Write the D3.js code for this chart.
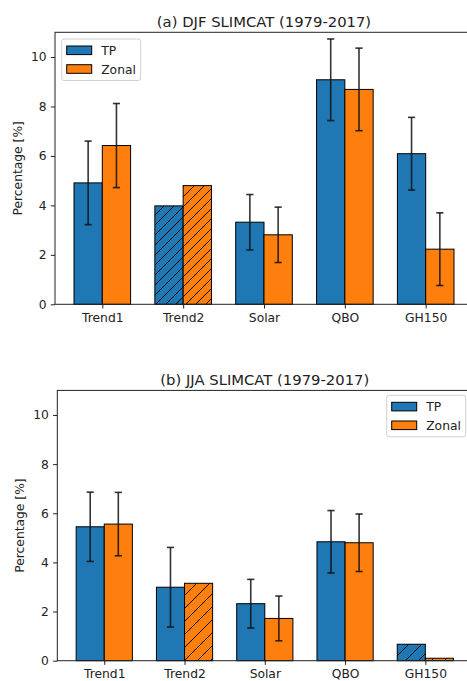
<!DOCTYPE html>
<html>
<head>
<meta charset="utf-8">
<script src="https://cdn.jsdelivr.net/npm/d3@7"></script>
<style>
  body { margin: 0; background: #fff; }
  svg { display: block; font-family: "DejaVu Sans", sans-serif; }
</style>
</head>
<body>
<svg id="chart" width="467" height="681"></svg>
<script>
// categories + values
const categories = ["Trend1", "Trend2", "Solar", "QBO", "GH150"];
const seriesNames = ["TP", "Zonal"];

const djfTP = [4.91, 3.98, 3.32, 9.08, 6.09];
const djfTPErr = [1.69, null, 1.12, 1.65, 1.47];
const djfZonal = [6.42, 4.80, 2.81, 8.69, 2.23];
const djfZonalErr = [1.70, null, 1.12, 1.67, 1.47];
const djfTPHatch = [false, true, false, false, false];
const djfZonalHatch = [false, true, false, false, false];

const jjaTP = [5.45, 2.99, 2.32, 4.84, 0.67];
const jjaTPErr = [1.41, 1.62, 0.99, 1.27, null];
const jjaZonal = [5.56, 3.15, 1.72, 4.80, 0.10];
const jjaZonalErr = [1.29, null, 0.91, 1.17, null];
const jjaTPHatch = [false, false, false, false, true];
const jjaZonalHatch = [false, true, false, false, true];

const yTicks = [0, 2, 4, 6, 8, 10];
const colors = {TP: "#1f77b4", Zonal: "#ff7f0e"};
const ink = "#222";
const labelSize = "12.3px";

const svg = d3.select("#chart");
const defs = svg.append("defs");

// diagonal "/" hatch, one pattern per colour and spacing
function hatch(id, color, s) {
  const p = defs.append("pattern")
    .attr("id", id)
    .attr("patternUnits", "userSpaceOnUse")
    .attr("width", s).attr("height", s);
  p.append("rect").attr("width", s).attr("height", s).attr("fill", color);
  p.append("path")
    .attr("d", `M0,${s} L${s},0 M${-s / 2},${s / 2} L${s / 2},${-s / 2} M${s / 2},${s * 1.5} L${s * 1.5},${s / 2}`)
    .attr("stroke", "#000").attr("stroke-width", 1);
}

function drawPanel(cfg) {
  const x = d3.scaleLinear().domain([-0.585, 4.585]).range([cfg.left, cfg.right]);
  const y = d3.scaleLinear().domain([0, 11]).range([cfg.bottom, cfg.top]);
  const bw = 0.35;

  hatch(cfg.id + "TP", colors.TP, cfg.hatchStep);
  hatch(cfg.id + "Zonal", colors.Zonal, cfg.hatchStep);

  const g = svg.append("g");

  const series = [
    {name: "TP", vals: cfg.tp, err: cfg.tpErr, hatch: cfg.tpHatch, off: -bw},
    {name: "Zonal", vals: cfg.zonal, err: cfg.zonalErr, hatch: cfg.zonalHatch, off: 0}
  ];

  series.forEach(s => {
    const rows = categories.map((c, i) => ({i, v: s.vals[i], e: s.err[i], h: s.hatch[i]}));
    g.selectAll(null).data(rows).enter().append("rect")
      .attr("x", d => x(d.i + s.off))
      .attr("width", d => x(d.i + s.off + bw) - x(d.i + s.off))
      .attr("y", d => y(d.v))
      .attr("height", d => y(0) - y(d.v))
      .attr("fill", d => d.h ? `url(#${cfg.id}${s.name})` : colors[s.name])
      .attr("stroke", "#000")
      .attr("stroke-width", 1);
  });

  // error bars on top of bars
  series.forEach(s => {
    const rows = categories.map((c, i) => ({i, v: s.vals[i], e: s.err[i]})).filter(d => d.e != null);
    const eg = g.selectAll(null).data(rows).enter().append("g")
      .attr("stroke", "#111").attr("stroke-opacity", 0.85).attr("stroke-width", 1.6);
    const cx = d => x(d.i + s.off + bw / 2);
    eg.append("line").attr("x1", cx).attr("x2", cx)
      .attr("y1", d => y(d.v + d.e)).attr("y2", d => y(d.v - d.e));
    eg.append("line").attr("x1", d => cx(d) - 3.6).attr("x2", d => cx(d) + 3.6)
      .attr("y1", d => y(d.v + d.e)).attr("y2", d => y(d.v + d.e));
    eg.append("line").attr("x1", d => cx(d) - 3.6).attr("x2", d => cx(d) + 3.6)
      .attr("y1", d => y(d.v - d.e)).attr("y2", d => y(d.v - d.e));
  });

  // axes
  const ya = g.append("g").attr("transform", `translate(${cfg.left},0)`)
    .call(d3.axisLeft(y).tickValues(yTicks).tickFormat(d3.format("d")).tickSize(4.2).tickPadding(4.2));
  const xa = g.append("g").attr("transform", `translate(0,${cfg.bottom})`)
    .call(d3.axisBottom(x).tickValues(d3.range(categories.length)).tickFormat(i => categories[i]).tickSize(4.2).tickPadding(4.4));
  [ya, xa].forEach(a => {
    a.select(".domain").remove();
    a.selectAll("line").attr("stroke", ink).attr("stroke-width", 1);
    a.selectAll("text").attr("fill", ink).style("font-size", labelSize).style("font-family", "DejaVu Sans");
  });

  // frame
  g.append("rect")
    .attr("x", cfg.left).attr("y", cfg.top)
    .attr("width", cfg.right - cfg.left).attr("height", cfg.bottom - cfg.top)
    .attr("fill", "none").attr("stroke", ink).attr("stroke-width", 1);

  g.append("text")
    .attr("x", (cfg.left + cfg.right) / 2).attr("y", cfg.top - 5.8)
    .attr("text-anchor", "middle").attr("fill", ink)
    .style("font-size", "14.8px")
    .text(cfg.title);

  g.append("text")
    .attr("transform", `translate(${cfg.left - 37.5},${(cfg.top + cfg.bottom) / 2}) rotate(-90)`)
    .attr("text-anchor", "middle").attr("dy", "0.35em").attr("fill", ink)
    .style("font-size", labelSize)
    .text("Percentage [%]");

  // legend
  const lg = g.append("g").attr("transform", `translate(${cfg.legX},${cfg.legY})`);
  lg.append("rect").attr("width", 79).attr("height", 41.5).attr("rx", 2.5)
    .attr("fill", "#fff").attr("fill-opacity", 0.8)
    .attr("stroke", "#d0d0d0").attr("stroke-width", 1);
  seriesNames.forEach((n, k) => {
    lg.append("rect").attr("x", 5).attr("y", 7 + k * 18.7).attr("width", 25).attr("height", 8.6)
      .attr("fill", colors[n]).attr("stroke", "#000").attr("stroke-width", 1);
    lg.append("text").attr("x", 39.5).attr("y", 15.8 + k * 18.7)
      .attr("fill", ink).style("font-size", labelSize).text(n);
  });
}

drawPanel({
  id: "djf", title: "(a) DJF SLIMCAT (1979-2017)",
  left: 55, right: 473, top: 32.3, bottom: 304.3, hatchStep: 10,
  tp: djfTP, tpErr: djfTPErr, tpHatch: djfTPHatch,
  zonal: djfZonal, zonalErr: djfZonalErr, zonalHatch: djfZonalHatch,
  legX: 61.7, legY: 39
});

drawPanel({
  id: "jja", title: "(b) JJA SLIMCAT (1979-2017)",
  left: 57.3, right: 472.3, top: 390.4, bottom: 660.7, hatchStep: 13,
  tp: jjaTP, tpErr: jjaTPErr, tpHatch: jjaTPHatch,
  zonal: jjaZonal, zonalErr: jjaZonalErr, zonalHatch: jjaZonalHatch,
  legX: 386.7, legY: 395.3
});
</script>
</body>
</html>
